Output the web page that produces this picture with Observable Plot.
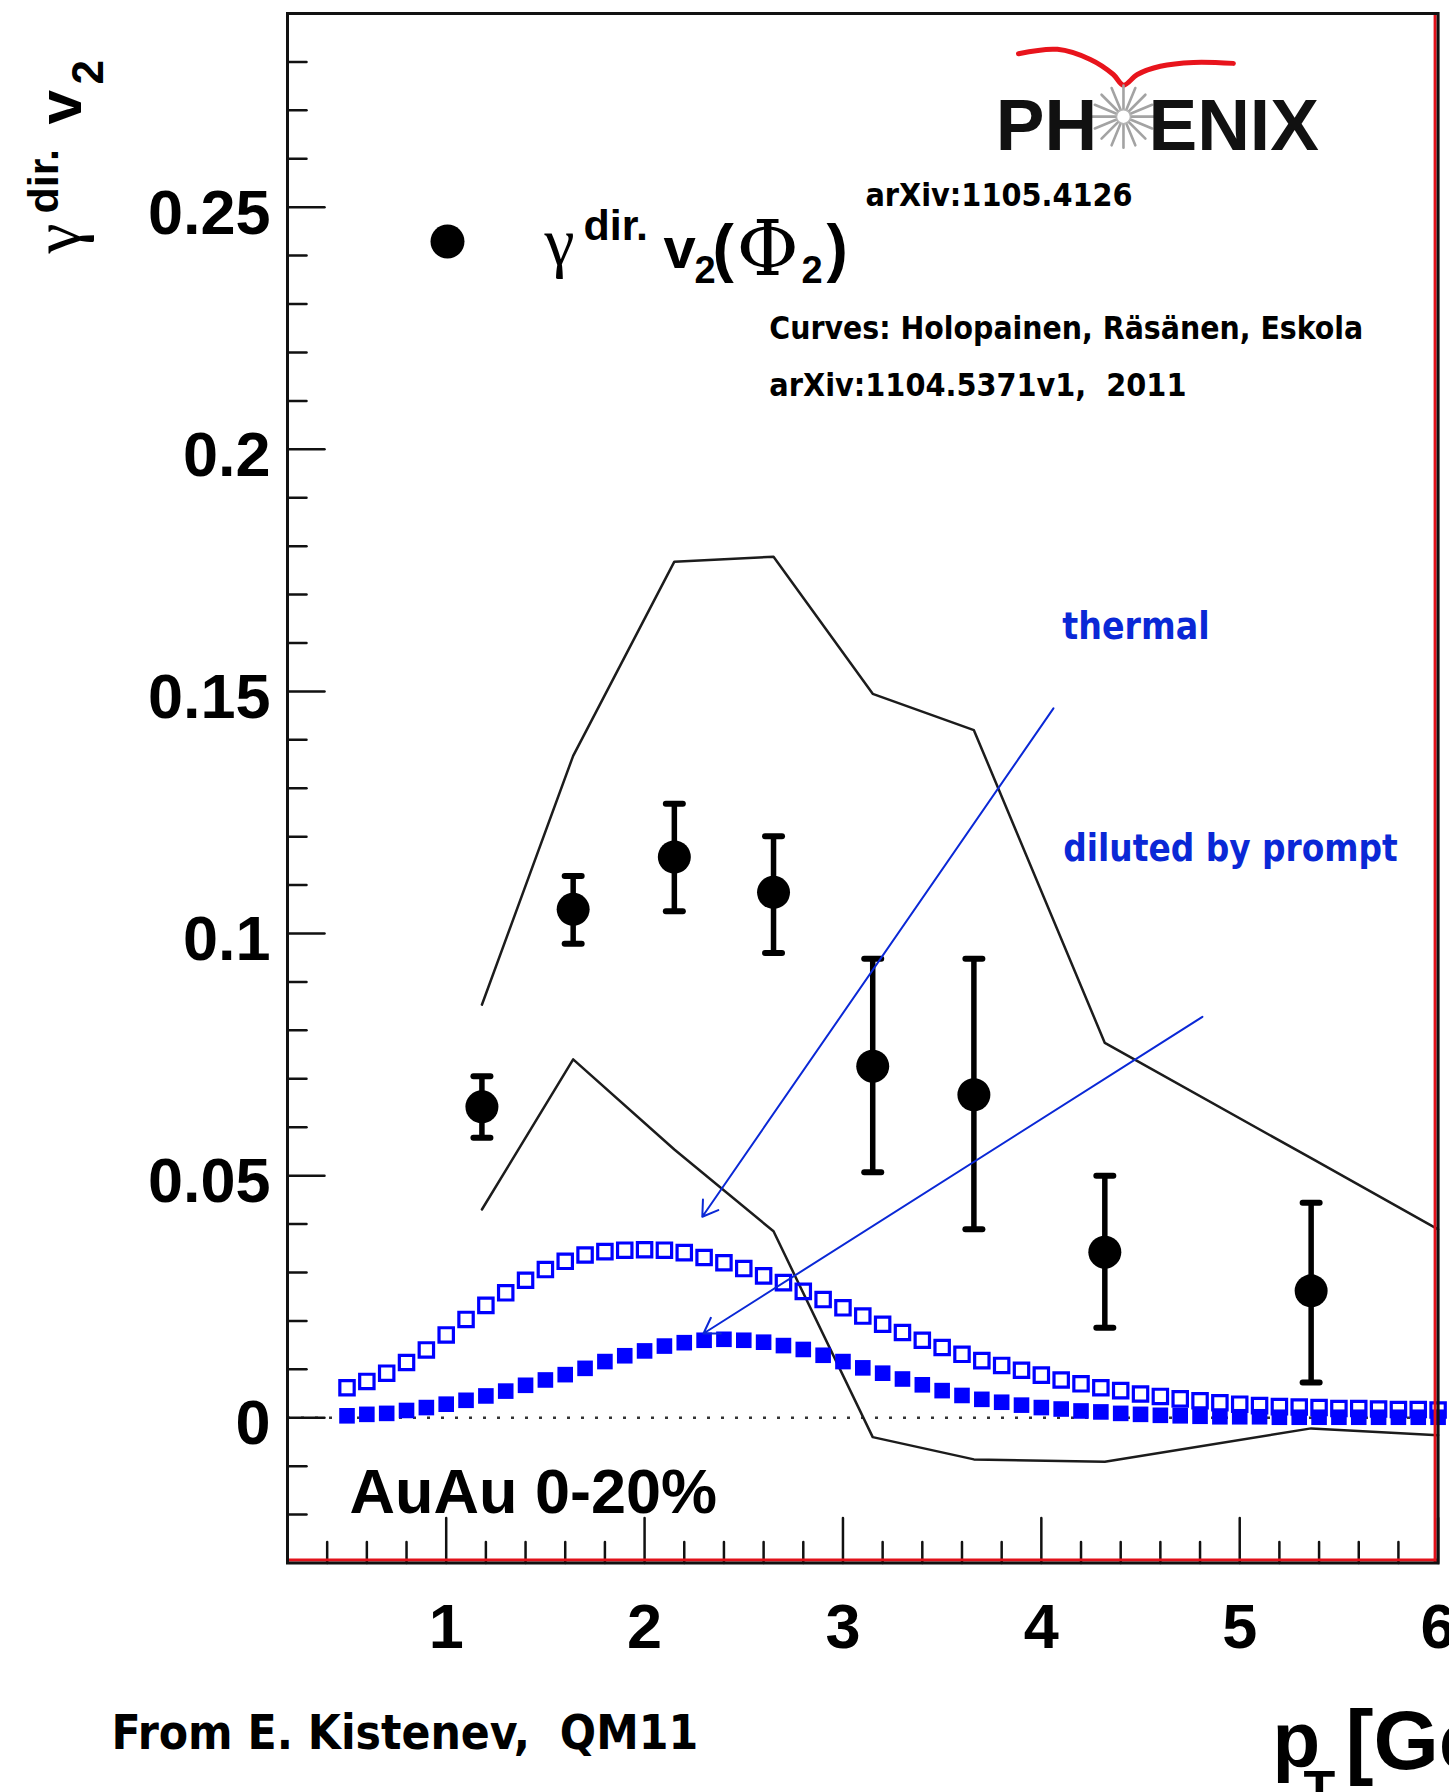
<!DOCTYPE html>
<html>
<head>
<meta charset="utf-8">
<script src="https://cdn.jsdelivr.net/npm/d3@7"></script>
<script src="https://cdn.jsdelivr.net/npm/@observablehq/plot@0.6"></script>
<style>
  html, body { margin: 0; padding: 0; background: #fff; }
  #chart svg { display: block; }
</style>
</head>
<body>
<div id="chart"></div>
<script>
// ---------------- data ----------------
// PHENIX gamma_dir v2 (AuAu 0-20%)
const dataPt      = [1.18, 1.64, 2.15, 2.65, 3.15, 3.66, 4.32, 5.36];
const dataV2      = [0.0642, 0.1050, 0.1158, 0.1085, 0.0726, 0.0667, 0.0342, 0.0262];
const dataErrUp   = [0.0063, 0.0069, 0.0110, 0.0116, 0.0222, 0.0281, 0.0158, 0.0182];
const dataErrDown = [0.0064, 0.0071, 0.0112, 0.0125, 0.0219, 0.0278, 0.0156, 0.0189];

// black theory band edges
const curvePt    = [1.18, 1.64, 2.15, 2.65, 3.15, 3.66, 4.32, 5.36, 6.0];
const curveUpper = [0.0853, 0.1367, 0.1768, 0.1778, 0.1495, 0.1420, 0.0774, 0.0536, 0.0389];
const curveLower = [0.0430, 0.0740, 0.0554, 0.0385, -0.0040, -0.0086, -0.0091, -0.0022, -0.0036];

// blue model curves (Holopainen, Räsänen, Eskola)
const modelPt = [0.5, 0.6, 0.7, 0.8, 0.9, 1.0, 1.1, 1.2, 1.3, 1.4, 1.5, 1.6, 1.7, 1.8, 1.9,
  2.0, 2.1, 2.2, 2.3, 2.4, 2.5, 2.6, 2.7, 2.8, 2.9, 3.0, 3.1, 3.2, 3.3, 3.4, 3.5, 3.6, 3.7,
  3.8, 3.9, 4.0, 4.1, 4.2, 4.3, 4.4, 4.5, 4.6, 4.7, 4.8, 4.9, 5.0, 5.1, 5.2, 5.3, 5.4, 5.5,
  5.6, 5.7, 5.8, 5.9, 6.0];
const thermalV2 = [0.0062, 0.0075, 0.0092, 0.0114, 0.0140, 0.0171, 0.0203, 0.0232, 0.0258,
  0.0284, 0.0306, 0.0323, 0.0336, 0.0343, 0.0346, 0.0347, 0.0346, 0.0341, 0.0331, 0.0320,
  0.0308, 0.0293, 0.0279, 0.0261, 0.0244, 0.0227, 0.0210, 0.0193, 0.0176, 0.0160, 0.0145,
  0.0131, 0.0118, 0.0108, 0.0098, 0.0088, 0.0078, 0.0070, 0.0062, 0.0056, 0.0049, 0.0044,
  0.0039, 0.0035, 0.0031, 0.0028, 0.0025, 0.0023, 0.0022, 0.0021, 0.0019, 0.0019, 0.0018,
  0.0017, 0.0017, 0.0016];
const dilutedV2 = [0.0004, 0.0007, 0.0009, 0.0015, 0.0021, 0.0028, 0.0036, 0.0045, 0.0055,
  0.0067, 0.0078, 0.0089, 0.0102, 0.0116, 0.0128, 0.0138, 0.0148, 0.0155, 0.0160, 0.0162,
  0.0160, 0.0156, 0.0149, 0.0141, 0.0129, 0.0116, 0.0103, 0.0092, 0.0080, 0.0068, 0.0056,
  0.0046, 0.0038, 0.0032, 0.0026, 0.0021, 0.0018, 0.0014, 0.0012, 0.0009, 0.0007, 0.0005,
  0.0004, 0.0003, 0.0002, 0.0002, 0.0002, 0.0001, 0.0001, 0.0001, 0.0001, 0.0001, 0.0001,
  0.0001, 0.0001, 0.0001];

// axes
const xDomain = [0.2, 6];
const yDomain = [-0.03, 0.29];
const xMajorTicks = [1, 2, 3, 4, 5, 6];
const xMinorTicks = [0.4, 0.6, 0.8, 1.2, 1.4, 1.6, 1.8, 2.2, 2.4, 2.6, 2.8, 3.2, 3.4, 3.6, 3.8,
  4.2, 4.4, 4.6, 4.8, 5.2, 5.4, 5.6, 5.8];
const yMajorTicks = [0, 0.05, 0.1, 0.15, 0.2, 0.25];
const yTickLabels = ["0", "0.05", "0.1", "0.15", "0.2", "0.25"];
const yMinorTicks = [-0.02, -0.01, 0.01, 0.02, 0.03, 0.04, 0.06, 0.07, 0.08, 0.09, 0.11, 0.12,
  0.13, 0.14, 0.16, 0.17, 0.18, 0.19, 0.21, 0.22, 0.23, 0.24, 0.26, 0.27, 0.28];

// annotation anchor positions (data coordinates)
const arrows = [
  {x1: 4.061, y1: 0.1465, x2: 2.291, y2: 0.0415},   // thermal
  {x1: 4.812, y1: 0.0828, x2: 2.297, y2: 0.0174}    // diluted by prompt
];
const legendAt = {x: 1.0065, y: 0.2429};
const logoSwoosh = [[3.885, 0.2817], [4.081, 0.2826], [4.247, 0.2805], [4.363, 0.2774],
  [4.414, 0.2752], [4.484, 0.2774], [4.600, 0.2791], [4.767, 0.2799], [4.968, 0.2797]];
const logoStar = {x: 4.414, y: 0.2687};
const starAngles = [0, 22.5, 45, 67.5, 90, 112.5, 135, 157.5];

// ---------------- styles ----------------
const fontRoot  = "'Liberation Sans', Arial, Helvetica, sans-serif";
const fontPpt   = "'DejaVu Sans Condensed', 'DejaVu Sans', sans-serif";
const fontSerif = "'Liberation Serif', 'Times New Roman', serif";
const fontSerifWide = "'DejaVu Serif', 'Liberation Serif', serif";
const squareBlue = "#0000ff";
const noteBlue = "#0a28d6";
const frameRed = "#e3121b";

const lineShape = {draw(ctx, l) { ctx.moveTo(0, 0); ctx.lineTo(0, -l); }};

const points = dataPt.map((x, i) => ({x, y: dataV2[i], lo: dataV2[i] - dataErrDown[i], hi: dataV2[i] + dataErrUp[i]}));
const upper = curvePt.map((x, i) => ({x, y: curveUpper[i]}));
const lower = curvePt.map((x, i) => ({x, y: curveLower[i]}));
const thermal = modelPt.map((x, i) => ({x, y: thermalV2[i]}));
const diluted = modelPt.map((x, i) => ({x, y: dilutedV2[i]}));

// helper for text pieces
function txt(str, o) {
  return Plot.text([str], Object.assign({text: d => d, textAnchor: "start", lineAnchor: "bottom", fill: "black"}, o));
}
// piece of composite legend label, offset from legend dot
function leg(str, dx, dy, fontSize, family) {
  return txt(str, {x: legendAt.x, y: legendAt.y, dx, dy, fontSize,
    fontFamily: family || fontRoot, fontWeight: family ? "normal" : "bold"});
}
// piece placed relative to a frame corner
function outer(str, anchor, dx, dy, fontSize, family, rotate) {
  return txt(str, {frameAnchor: anchor, dx, dy, fontSize, rotate: rotate || 0,
    fontFamily: family || fontRoot, fontWeight: family ? "normal" : "bold"});
}

const marks = [
  // zero dotted line
  Plot.ruleY([0], {stroke: "#333", strokeWidth: 2.5, strokeDasharray: "3,11"}),

  // ticks (inward)
  Plot.vector(xMajorTicks, {x: d => d, frameAnchor: "bottom", length: 45, rotate: 0, anchor: "start", shape: lineShape, stroke: "#111", strokeWidth: 2.5}),
  Plot.vector(xMinorTicks, {x: d => d, frameAnchor: "bottom", length: 21, rotate: 0, anchor: "start", shape: lineShape, stroke: "#111", strokeWidth: 2.5}),
  Plot.vector(yMajorTicks, {y: d => d, frameAnchor: "left", length: 37, rotate: 90, anchor: "start", shape: lineShape, stroke: "#111", strokeWidth: 2.5}),
  Plot.vector(yMinorTicks, {y: d => d, frameAnchor: "left", length: 19, rotate: 90, anchor: "start", shape: lineShape, stroke: "#111", strokeWidth: 2.5}),

  // tick labels
  Plot.axisX(xMajorTicks, {tickSize: 0, tickPadding: 40, fontSize: 63, fontWeight: "bold", fontFamily: fontRoot, tickFormat: d => String(d), label: null}),
  Plot.axisY(yMajorTicks, {tickSize: 0, tickPadding: 17, fontSize: 63, fontWeight: "bold", fontFamily: fontRoot, dy: 6.5,
    tickFormat: d => yTickLabels[yMajorTicks.indexOf(d)], label: null}),

  // theory band edges
  Plot.line(upper, {x: "x", y: "y", stroke: "#1c1c1c", strokeWidth: 2.5}),
  Plot.line(lower, {x: "x", y: "y", stroke: "#1c1c1c", strokeWidth: 2.5}),

  // blue model curves
  Plot.dot(thermal, {x: "x", y: "y", symbol: "square", r: 8.1, stroke: squareBlue, strokeWidth: 3.2, fill: "none"}),
  Plot.dot(diluted, {x: "x", y: "y", symbol: "square", r: 8.8, fill: squareBlue, stroke: "none"}),

  // data with error bars
  Plot.ruleX(points, {x: "x", y1: "lo", y2: "hi", stroke: "black", strokeWidth: 5.5}),
  Plot.vector(points, {x: "x", y: "hi", rotate: 90, length: 17, anchor: "middle", shape: lineShape, stroke: "black", strokeWidth: 6}),
  Plot.vector(points, {x: "x", y: "lo", rotate: 90, length: 17, anchor: "middle", shape: lineShape, stroke: "black", strokeWidth: 6}),
  Plot.dot(points, {x: "x", y: "y", r: 16.5, fill: "black", stroke: "none"}),

  // legend
  Plot.dot([legendAt], {x: "x", y: "y", r: 17, fill: "black"}),
  leg("γ", 97, 23, 68, fontSerif),
  leg("dir.", 136, -2, 43),
  leg("v", 216, 26, 58),
  leg("2", 247, 41, 38),
  leg("(", 265, 28, 64),
  leg("Φ", 289, 33, 76, fontSerifWide),
  leg("2", 354, 41, 38),
  leg(")", 379, 28, 64),

  // PHENIX logo
  Plot.line(logoSwoosh, {x: d => d[0], y: d => d[1], stroke: "#e8141c", strokeWidth: 5, curve: "catmull-rom"}),
  Plot.vector(starAngles, {x: logoStar.x, y: logoStar.y, rotate: d => d, length: 62, anchor: "middle", shape: lineShape, stroke: "#a3a3a3", strokeWidth: 2.6}),
  Plot.dot([logoStar], {x: "x", y: "y", r: 7, fill: "white", stroke: "#b5b5b5", strokeWidth: 1.5}),
  txt("PH", {x: 3.770, y: 0.2619, fontSize: 73, fontWeight: "bold", fontFamily: fontRoot, fill: "#111"}),
  txt("ENIX", {x: 4.540, y: 0.2619, fontSize: 73, fontWeight: "bold", fontFamily: fontRoot, fill: "#111"}),

  // PowerPoint notes
  txt("arXiv:1105.4126", {x: 3.113, y: 0.2502, fontSize: 32, fontWeight: "bold", fontFamily: fontPpt}),
  txt("Curves: Holopainen, Räsänen, Eskola", {x: 2.629, y: 0.2227, fontSize: 31.6, fontWeight: "bold", fontFamily: fontPpt}),
  txt("arXiv:1104.5371v1,\u00a0 2011", {x: 2.629, y: 0.2111, fontSize: 32, fontWeight: "bold", fontFamily: fontPpt}),
  txt("thermal", {x: 4.106, y: 0.1608, fontSize: 37, fontWeight: "bold", fontFamily: fontPpt, fill: noteBlue}),
  txt("diluted by prompt", {x: 4.111, y: 0.1150, fontSize: 36.5, fontWeight: "bold", fontFamily: fontPpt, fill: noteBlue}),
  Plot.arrow(arrows, {x1: "x1", y1: "y1", x2: "x2", y2: "y2", stroke: noteBlue, strokeWidth: 2, headLength: 13, headAngle: 65}),

  // centrality label
  txt("AuAu 0-20%", {x: 0.5125, y: -0.0196, fontSize: 63, fontWeight: "bold", fontFamily: fontRoot}),

  // frame: black box with red right/bottom inner edge
  Plot.ruleX([xDomain[1]], {stroke: frameRed, strokeWidth: 3, dx: -3}),
  Plot.ruleY([yDomain[0]], {stroke: frameRed, strokeWidth: 3, dy: -3}),
  Plot.frame({stroke: "#111", strokeWidth: 3}),

  // y-axis title (rotated), relative to frame top-left (287, 13)
  outer("γ", "top-left", 79 - 287, 253 - 13, 68, fontSerif, -90),
  outer("dir.", "top-left", 57 - 287, 213 - 13, 43, null, -90),
  outer("v", "top-left", 80 - 287, 124 - 13, 62, null, -90),
  outer("2", "top-left", 102 - 287, 84 - 13, 44, null, -90),

  // x-axis title (cut off at right), relative to frame bottom-left (287, 1562.5)
  outer("p", "bottom-left", 1272 - 287, 1766 - 1562.5, 78),
  outer("T", "bottom-left", 1303 - 287, 1806 - 1562.5, 52),
  outer("[GeV/c]", "bottom-left", 1345 - 287, 1768 - 1562.5, 84),

  // credit
  txt("From E. Kistenev,\u00a0 QM11", {frameAnchor: "bottom-left", dx: 111 - 287, dy: 1748 - 1562.5, fontSize: 47.5, fontWeight: "bold", fontFamily: fontPpt})
];

const chart = Plot.plot({
  width: 1449,
  height: 1792,
  marginLeft: 287,
  marginRight: 11.4,
  marginTop: 13,
  marginBottom: 229.5,
  x: {domain: xDomain, label: null},
  y: {domain: yDomain, label: null},
  style: {background: "white", fontFamily: fontRoot, fontWeight: "bold", overflow: "hidden", color: "black"},
  marks
});
document.getElementById("chart").appendChild(chart);
</script>
</body>
</html>
